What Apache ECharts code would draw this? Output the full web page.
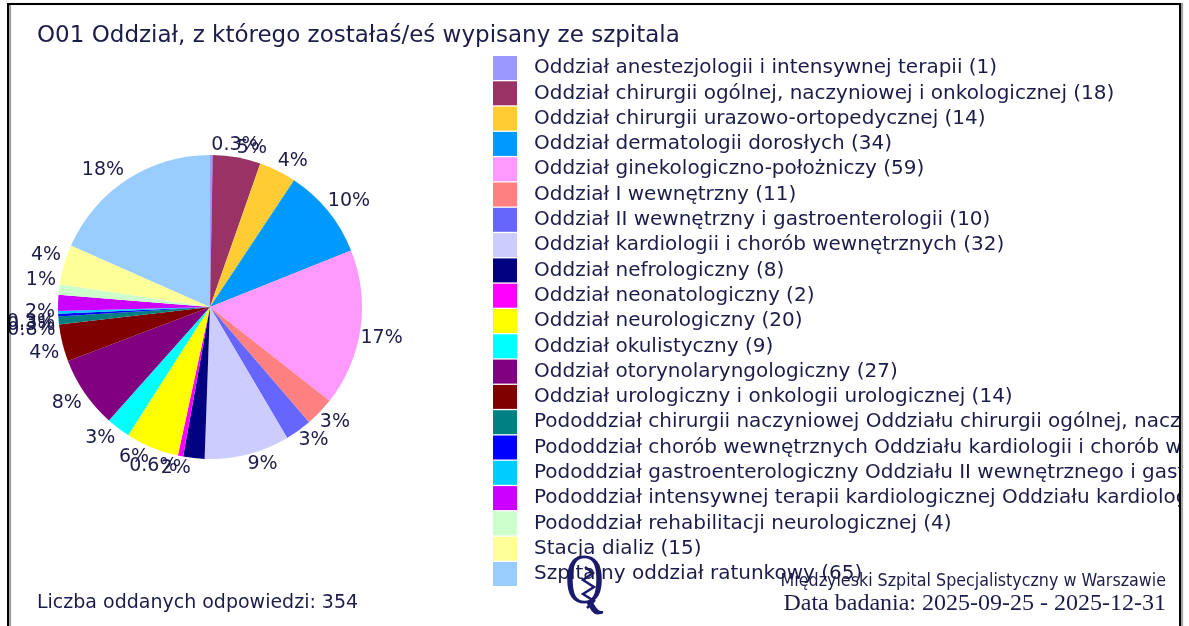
<!DOCTYPE html>
<html>
<head>
<meta charset="utf-8">
<script src="https://cdn.jsdelivr.net/npm/echarts@6/dist/echarts.min.js"></script>
<style>
  html, body { margin: 0; padding: 0; background: #fff; }
  #chart { width: 1189px; height: 626px; }
</style>
</head>
<body>
<div id="chart"></div>
<script>
  var categories = [
    'Oddział anestezjologii i intensywnej terapii',
    'Oddział chirurgii ogólnej, naczyniowej i onkologicznej',
    'Oddział chirurgii urazowo-ortopedycznej',
    'Oddział dermatologii dorosłych',
    'Oddział ginekologiczno-położniczy',
    'Oddział I wewnętrzny',
    'Oddział II wewnętrzny i gastroenterologii',
    'Oddział kardiologii i chorób wewnętrznych',
    'Oddział nefrologiczny',
    'Oddział neonatologiczny',
    'Oddział neurologiczny',
    'Oddział okulistyczny',
    'Oddział otorynolaryngologiczny',
    'Oddział urologiczny i onkologii urologicznej',
    'Pododdział chirurgii naczyniowej Oddziału chirurgii ogólnej, naczyniowej i onkologicznej',
    'Pododdział chorób wewnętrznych Oddziału kardiologii i chorób wewnętrznych',
    'Pododdział gastroenterologiczny Oddziału II wewnętrznego i gastroenterologii',
    'Pododdział intensywnej terapii kardiologicznej Oddziału kardiologii i chorób wewnętrznych',
    'Pododdział rehabilitacji neurologicznej',
    'Stacja dializ',
    'Szpitalny oddział ratunkowy'
  ]
  var counts = [1, 18, 14, 34, 59, 11, 10, 32, 8, 2, 20, 9, 27, 14, 3, 1, 1, 6, 4, 15, 65]
  var colors = [
    '#9999ff', '#993366', '#ffcc33', '#0099ff', '#ff99ff', '#ff8080', '#6666ff',
    '#ccccff', '#000080', '#ff00ff', '#ffff00', '#00ffff', '#800080', '#800000',
    '#008080', '#0000ff', '#00ccff', '#cc00ff', '#ccffcc', '#ffff99', '#99ccff'
  ]

  var total = counts.reduce(function (a, b) { return a + b }, 0)
  var countOf = {}
  var pieData = categories.map(function (name, i) {
    countOf[name] = counts[i]
    return { name: name, value: counts[i], itemStyle: { color: colors[i] } }
  })

  var pieCenter = [210, 307]
  var pieRadius = 152

  // label sits just outside the slice, its nearest corner on the rim
  var labelAt = function (params) {
    var i = params.dataIndex
    var before = 0
    for (var k = 0; k < i; k++) before += counts[k]
    var mid = (before + counts[i] / 2) / total * Math.PI * 2
    var dx = Math.sin(mid)
    var dy = -Math.cos(mid)
    return {
      x: pieCenter[0] + dx * pieRadius + (dx < 0 ? -3 : 0),
      y: pieCenter[1] + dy * pieRadius,
      align: dx >= 0 ? 'left' : 'right',
      verticalAlign: dy >= -0.05 ? 'top' : 'bottom',
      hideOverlap: false
    }
  }

  var textColor = '#1c1c4a'
  var myChart = echarts.init(document.getElementById('chart'))

  var option = {
    animation: false,
    title: {
      text: 'O01 Oddział, z którego zostałaś/eś wypisany ze szpitala',
      left: 32,
      top: 20,
      textStyle: { fontFamily: 'DejaVu Sans', fontSize: 23, fontWeight: 'normal', color: textColor }
    },
    legend: {
      orient: 'vertical',
      left: 488,
      top: 51,
      itemWidth: 24,
      itemHeight: 24,
      itemGap: 1.3,
      icon: 'rect',
      selectedMode: false,
      formatter: function (name) {
        return name + ' (' + countOf[name] + ')'
      },
      textStyle: {
        fontFamily: 'DejaVu Sans',
        fontSize: 20,
        color: textColor,
        padding: [0, 0, 0, 12]
      }
    },
    graphic: [
      // long legend names run under the frame and get cut there
      {
        type: 'rect',
        shape: { x: 1180, y: 0, width: 20, height: 626 },
        style: { fill: '#fff' },
        z: 99
      },
      {
        type: 'rect',
        shape: { x: 8, y: 4, width: 1172, height: 630 },
        style: { fill: 'none', stroke: '#000', lineWidth: 2, shadowColor: 'rgba(0,0,0,0.4)', shadowOffsetX: 2, shadowBlur: 1 },
        z: 100
      },
      {
        type: 'text',
        left: 37,
        top: 594,
        style: { text: 'Liczba oddanych odpowiedzi: ' + total, font: '19px "DejaVu Sans"', fill: textColor }
      },
      {
        type: 'text',
        right: 23,
        top: 572,
        style: { text: 'Międzyleski Szpital Specjalistyczny w Warszawie', font: '17.7px "DejaVu Sans Condensed"', fill: textColor }
      },
      {
        type: 'text',
        right: 23,
        top: 592,
        style: { text: 'Data badania: 2025-09-25 - 2025-12-31', font: '24px "Liberation Serif"', fill: textColor }
      },
      {
        type: 'text',
        left: 565,
        top: 548,
        scaleX: 0.75,
        style: { text: 'Q', font: '72px "Liberation Serif"', fill: '#1a1a6e' }
      },
      {
        type: 'polyline',
        shape: { points: [[585, 567], [593, 573], [583, 580], [594, 587], [583, 594], [594, 601], [587, 608]] },
        style: { stroke: '#1a1a6e', lineWidth: 2.5, fill: 'none' }
      }
    ],
    series: [
      {
        type: 'pie',
        center: pieCenter,
        radius: pieRadius,
        startAngle: 90,
        clockwise: true,
        avoidLabelOverlap: false,
        data: pieData,
        label: {
          show: true,
          position: 'outside',
          fontFamily: 'DejaVu Sans',
          fontSize: 19,
          color: textColor,
          formatter: function (p) {
            var pct = p.value / total * 100
            return (pct < 1 ? pct.toFixed(1) : Math.round(pct)) + '%'
          }
        },
        labelLine: { show: false, length: 0, length2: 0 },
        labelLayout: labelAt,
        emphasis: { disabled: true }
      }
    ]
  }
  myChart.setOption(option)
</script>
</body>
</html>
